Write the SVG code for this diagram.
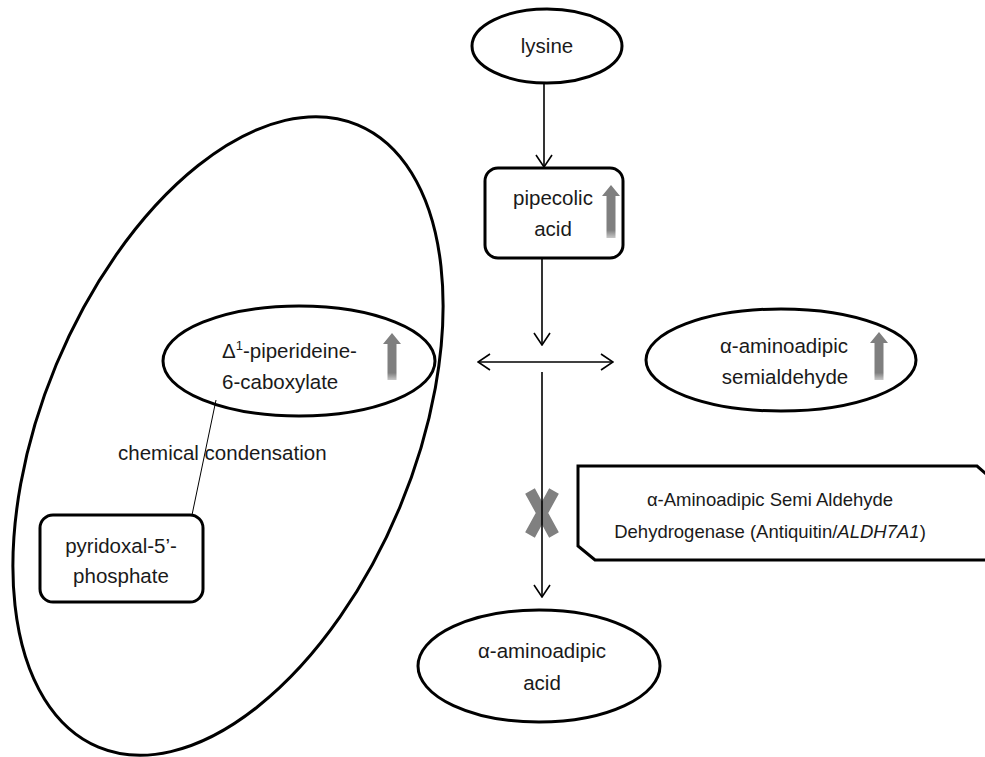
<svg xmlns="http://www.w3.org/2000/svg" width="985" height="757" viewBox="0 0 985 757">
<style>
  .node { fill: #ffffff; stroke: #000000; stroke-width: 3; }
  .t { font-family: "Liberation Sans", Arial, sans-serif; font-size: 20.5px; fill: #1a1a1a; }
  .te { font-family: "Liberation Sans", Arial, sans-serif; font-size: 18.5px; fill: #1a1a1a; }
  .conn { stroke: #000000; stroke-width: 1.6; fill: none; }
  .thin { stroke: #000000; stroke-width: 1; fill: none; }
  .up { fill: url(#upg); }
</style>
<defs>
  <marker id="arr" viewBox="0 0 14 18" refX="13" refY="9" markerWidth="14" markerHeight="18" markerUnits="userSpaceOnUse" orient="auto-start-reverse">
    <path d="M1,1 L13,9 L1,17" fill="none" stroke="#000" stroke-width="1.6"/>
  </marker>
  <linearGradient id="upg" x1="0" y1="0" x2="0" y2="1">
    <stop offset="0" stop-color="#7f7f7f"/>
    <stop offset="0.85" stop-color="#7f7f7f"/>
    <stop offset="1" stop-color="#c8c8c8"/>
  </linearGradient>
</defs>
<rect width="985" height="757" fill="#ffffff"/>

<g id="cell-region">
  <ellipse cx="228" cy="436" rx="186" ry="337" transform="rotate(22.6 228 436)" fill="none" stroke="#000" stroke-width="3"/>
</g>

<g id="lysine">
  <ellipse class="node" cx="547" cy="46" rx="75" ry="37"/>
  <text class="t" x="547" y="53" text-anchor="middle">lysine</text>
</g>

<g id="pipecolic-acid">
  <rect class="node" x="485" y="168" width="138" height="90" rx="13"/>
  <text class="t" x="553" y="205" text-anchor="middle">pipecolic</text>
  <text class="t" x="553" y="236" text-anchor="middle">acid</text>
  <polygon class="up" points="611,185 620,196 615.5,196 615.5,238 606.5,238 606.5,196 602,196"/>
</g>

<g id="piperideine">
  <ellipse class="node" cx="299" cy="361" rx="136" ry="55"/>
  <text class="t" x="222" y="358">Δ<tspan font-size="13" dy="-8">1</tspan><tspan dy="8">-piperideine-</tspan></text>
  <text class="t" x="222" y="389">6-caboxylate</text>
  <polygon class="up" points="392,333 401,344 396.5,344 396.5,380 387.5,380 387.5,344 383,344"/>
</g>

<g id="semialdehyde">
  <ellipse class="node" cx="781" cy="360" rx="135" ry="51"/>
  <text class="t" x="784" y="353" text-anchor="middle">α-aminoadipic</text>
  <text class="t" x="785" y="384" text-anchor="middle">semialdehyde</text>
  <polygon class="up" points="879,332 888,343 883.5,343 883.5,380 874.5,380 874.5,343 870,343"/>
</g>

<g id="pyridoxal">
  <rect class="node" x="40" y="515" width="163" height="87" rx="13"/>
  <text class="t" x="121" y="553" text-anchor="middle">pyridoxal-5’-</text>
  <text class="t" x="121" y="583" text-anchor="middle">phosphate</text>
</g>

<g id="aminoadipic-acid">
  <ellipse class="node" cx="539" cy="666" rx="121" ry="56"/>
  <text class="t" x="542" y="658" text-anchor="middle">α-aminoadipic</text>
  <text class="t" x="542" y="690" text-anchor="middle">acid</text>
</g>

<g id="enzyme">
  <path class="node" d="M578,466 H977 L992,479 V560 H595 L578,546 Z"/>
  <text class="te" x="770" y="506" text-anchor="middle">α-Aminoadipic Semi Aldehyde</text>
  <text class="te" x="770" y="538" text-anchor="middle">Dehydrogenase (Antiquitin/<tspan font-style="italic">ALDH7A1</tspan>)</text>
</g>

<g id="block-mark">
  <path d="M530,491 L554,535 M554,491 L530,535" stroke="#808080" stroke-width="11" fill="none"/>
</g>

<g id="connectors">
  <line class="conn" x1="544" y1="83" x2="544" y2="167" marker-end="url(#arr)"/>
  <line class="conn" x1="542" y1="258" x2="542" y2="345" marker-end="url(#arr)"/>
  <line class="conn" x1="478" y1="362" x2="613" y2="362" marker-start="url(#arr)" marker-end="url(#arr)"/>
  <line class="conn" x1="542" y1="372" x2="542" y2="597" marker-end="url(#arr)"/>
  <line class="thin" x1="216" y1="400" x2="192" y2="515"/>
</g>

<g id="label">
  <text class="t" x="118" y="460">chemical condensation</text>
</g>
</svg>
